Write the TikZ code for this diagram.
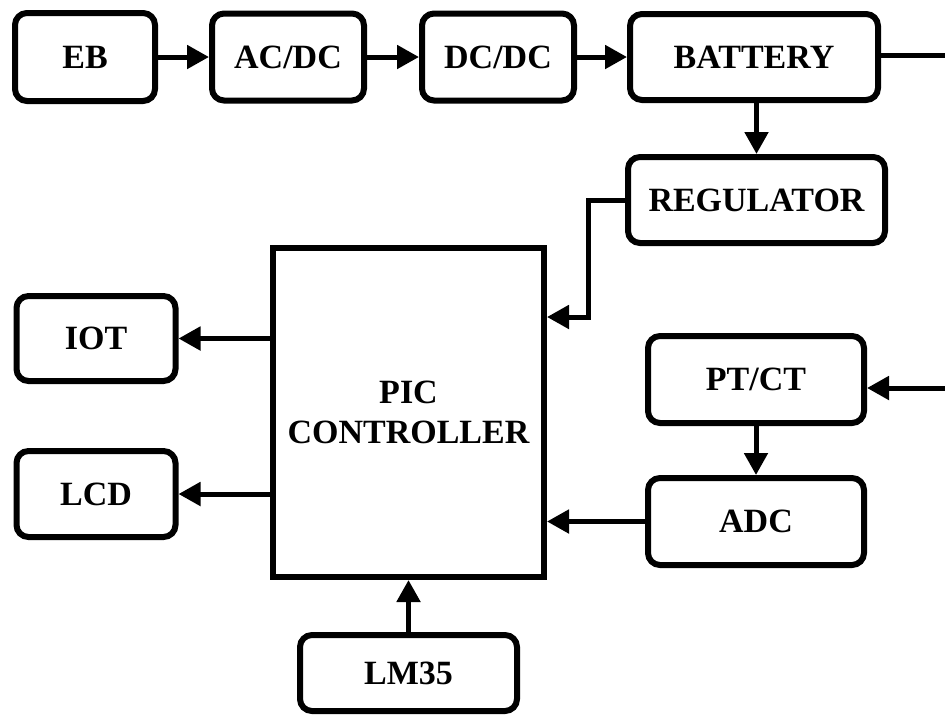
\documentclass[tikz,border=0pt]{standalone}
\usepackage{fontspec}
\setmainfont{Liberation Serif}
\usetikzlibrary{arrows.meta,calc}
\begin{document}
\begin{tikzpicture}[x=1pt,y=-1pt,
  box/.style={draw, line width=6pt, rounded corners=12pt, inner sep=0pt,
    font=\fontsize{34}{40}\selectfont\bfseries, align=center},
  sqbox/.style={box, rounded corners=0pt},
  arr/.style={line width=5pt, -{Triangle[length=22pt,width=23pt]}},
  ln/.style={line width=5pt}]
\useasboundingbox (0,0) rectangle (945,724);
\node[box, minimum width=140pt, minimum height=88pt] (EB) at (85,57) {EB};
\node[box, minimum width=152pt, minimum height=87pt] (ACDC) at (288,57) {AC/DC};
\node[box, minimum width=152pt, minimum height=87pt] (DCDC) at (498,57) {DC/DC};
\node[box, minimum width=248pt, minimum height=86pt] (BAT) at (754,57) {BATTERY};
\node[box, minimum width=257pt, minimum height=86pt] (REG) at (756.5,200) {REGULATOR};
\node[sqbox, minimum width=271pt, minimum height=329pt] (PIC) at (408.5,412.5) {PIC\\CONTROLLER};
\node[box, minimum width=159pt, minimum height=85pt] (IOT) at (96,338.5) {IOT};
\node[box, minimum width=159pt, minimum height=86pt] (LCD) at (96,494) {LCD};
\node[box, minimum width=216pt, minimum height=87pt] (PTCT) at (756,379.5) {PT/CT};
\node[box, minimum width=216pt, minimum height=87pt] (ADC) at (756,521.5) {ADC};
\node[box, minimum width=217pt, minimum height=76pt] (LM) at (408.5,673) {LM35};
\coordinate (bout) at (945,55);
\coordinate (pin) at (945,388);
\coordinate (rj) at (588,317);
\draw[arr] (EB) -- (ACDC);
\draw[arr] (ACDC) -- (DCDC);
\draw[arr] (DCDC) -- (BAT);
\draw[ln] (BAT.east |- bout) -- (bout);
\draw[arr] (BAT.south -| REG.north) -- (REG.north);
\draw[arr] (REG.west) -| (rj) -- (rj -| PIC.east);
\draw[arr] (PIC.west |- IOT) -- (IOT.east);
\draw[arr] (PIC.west |- LCD) -- (LCD.east);
\draw[arr] (pin) -- (pin -| PTCT.east);
\draw[arr] (PTCT) -- (ADC);
\draw[arr] (ADC.west) -- (PIC.east |- ADC);
\draw[arr] (LM) -- (PIC);
\end{tikzpicture}
\end{document}
